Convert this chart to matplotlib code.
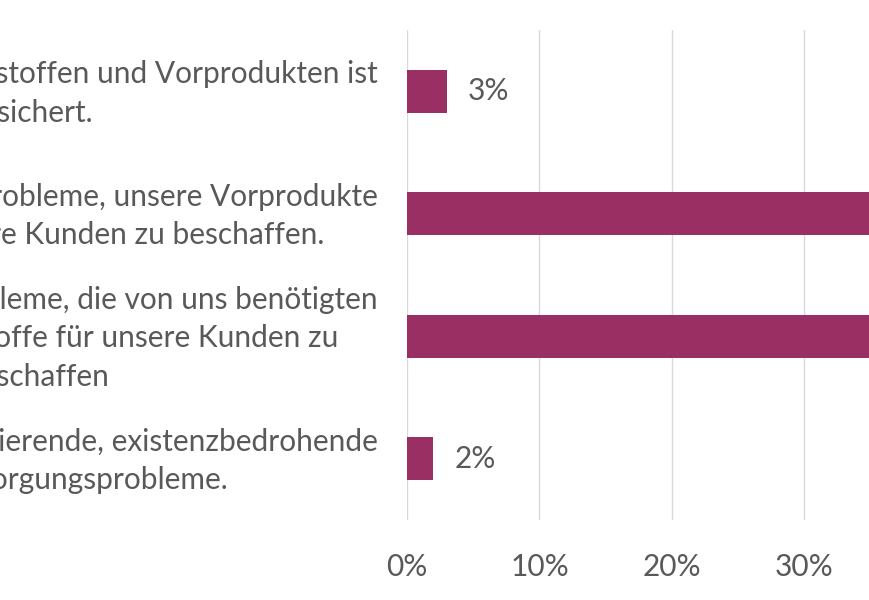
import matplotlib.pyplot as plt
import matplotlib.transforms as mtransforms

plt.rcParams['font.family'] = ['Lato', 'DejaVu Sans']

BAR_COLOR = "#992F63"
TEXT_COLOR = "#595959"
GRID_COLOR = "#D9D9D9"
FS = 21.5

categories = [
    "Die Versorgung mit Rohstoffen und Vorprodukten ist\ngesichert.",
    "Wir haben Probleme, unsere Vorprodukte\nfür unsere Kunden zu beschaffen.",
    "Es gibt erhebliche Probleme, die von uns benötigten\nVorprodukte/Rohstoffe für unsere Kunden zu\nbeschaffen",
    "Es gibt sehr gravierende, existenzbedrohende\nVersorgungsprobleme.",
]
values = [3, 48, 47, 2]
ticks = [0, 10, 20, 30, 40, 50]
tick_labels = ["0%", "10%", "20%", "30%", "40%", "50%"]

fig = plt.figure(figsize=(8.7, 6.0), dpi=100)
# plot area is cropped: it starts at x=407 px and runs past the right edge
ax = fig.add_axes([407 / 870, 80 / 600, 662.5 / 870, 490 / 600])

ypos = range(len(categories))
bars = ax.barh(ypos, values, height=0.35, color=BAR_COLOR, zorder=2)
ax.bar_label(bars, labels=["{}%".format(v) for v in values], padding=15,
             fontsize=FS, color=TEXT_COLOR)

ax.set_xlim(0, 50)
ax.set_ylim(3.5, -0.5)
ax.set_xticks(ticks)
ax.set_xticklabels(tick_labels)
ax.set_yticks(list(ypos))
ax.set_yticklabels(categories, ha="right", multialignment="center", linespacing=1.45)

ax.grid(axis="x", color=GRID_COLOR, linewidth=1, zorder=0)
ax.grid(axis="y", visible=False)
for s in ax.spines.values():
    s.set_visible(False)

ax.tick_params(axis="y", length=0, pad=21, labelsize=FS, labelcolor=TEXT_COLOR)
ax.tick_params(axis="x", length=0, pad=24, labelsize=FS, labelcolor=TEXT_COLOR)

# category labels sit a little above the bar centre
shift = mtransforms.ScaledTranslation(0, 4 / 72, fig.dpi_scale_trans)
for lab in ax.get_yticklabels():
    lab.set_transform(lab.get_transform() + shift)

fig.savefig("out.png", dpi=100)
